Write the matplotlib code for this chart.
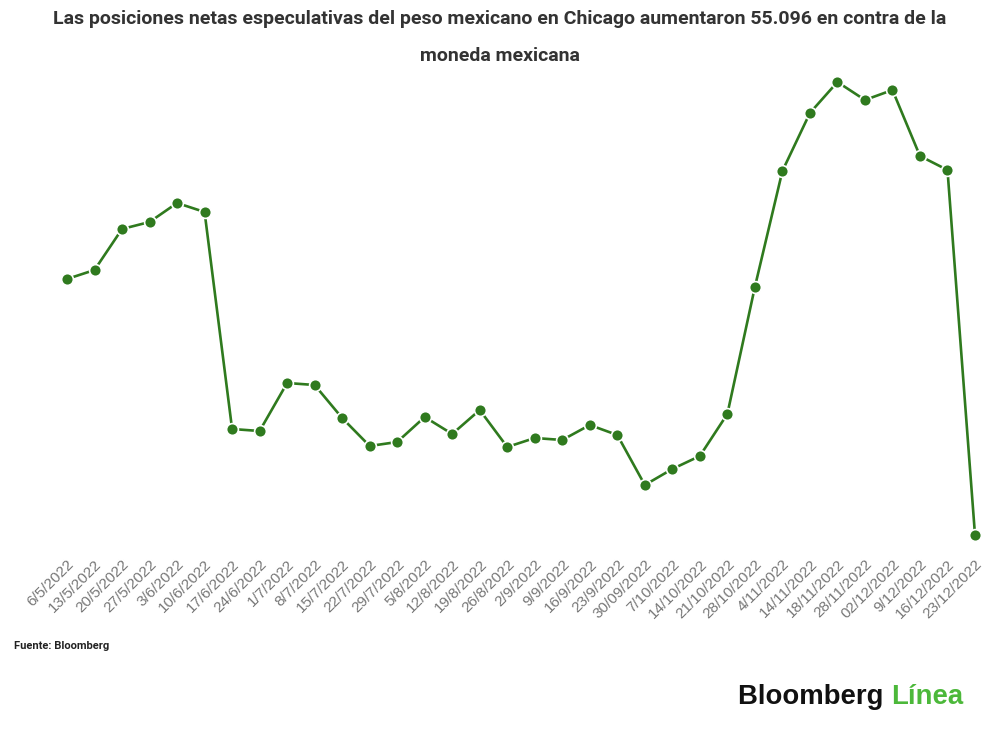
import matplotlib
matplotlib.use('Agg')
import matplotlib.pyplot as plt

plt.rcParams['font.family'] = ['Roboto', 'DejaVu Sans']

# Weekly dates (as labelled in the source)
fechas = ['6/5/2022', '13/5/2022', '20/5/2022', '27/5/2022', '3/6/2022', '10/6/2022',
          '17/6/2022', '24/6/2022', '1/7/2022', '8/7/2022', '15/7/2022', '22/7/2022',
          '29/7/2022', '5/8/2022', '12/8/2022', '19/8/2022', '26/8/2022', '2/9/2022',
          '9/9/2022', '16/9/2022', '23/9/2022', '30/09/2022', '7/10/2022', '14/10/2022',
          '21/10/2022', '28/10/2022', '4/11/2022', '14/11/2022', '18/11/2022', '28/11/2022',
          '02/12/2022', '9/12/2022', '16/12/2022', '23/12/2022']

# Net speculative positions (relative units)
posiciones = [281, 290, 331, 338, 357, 348, 131, 129, 177, 175, 142, 114,
              118, 143, 126, 150, 113, 122, 120, 135, 125, 75, 91, 104,
              146, 273, 389, 447, 478, 460, 470, 404, 390, 25]

verde = '#2f7a1e'

fig = plt.figure(figsize=(10, 7.32), dpi=100)
# axes placed so the first/last point and min/max match the reference
ax = fig.add_axes([0.067, 1 - 535 / 732, 0.908, (535 - 82) / 732])
x = list(range(len(fechas)))
ax.plot(x, posiciones, color=verde, lw=1.9, marker='o', ms=8.5,
        markerfacecolor=verde, markeredgecolor='white', markeredgewidth=1.2,
        clip_on=False, zorder=3)
ax.set_xlim(0, len(fechas) - 1)
ax.set_ylim(min(posiciones), max(posiciones))
for s in ax.spines.values():
    s.set_visible(False)
ax.set_yticks([])
ax.set_xticks(x)
ax.set_xticklabels(fechas, rotation=45, ha='right', rotation_mode='anchor',
                   fontsize=11, color='#777777',
                   family=['Liberation Sans', 'DejaVu Sans'])
ax.tick_params(axis='x', length=0, pad=16)

fig.text(0.5, 1 - 10 / 732, 'Las posiciones netas especulativas del peso mexicano en Chicago aumentaron 55.096 en contra de la\nmoneda mexicana',
         ha='center', va='top', fontsize=14, fontweight='bold', color='#333333', linespacing=2.35)
fig.text(0.014, 1 - 646 / 732, 'Fuente: Bloomberg', ha='left', va='center',
         fontsize=8, fontweight='bold', color='#222222')

t1 = fig.text(0.738, 1 - 697 / 732, 'Bloomberg ', ha='left', va='center',
              fontsize=19.8, fontweight='bold', color='#111111',
              family=['Liberation Sans', 'DejaVu Sans'])
fig.canvas.draw()
bb = t1.get_window_extent()
fig.text(bb.x1 / fig.bbox.width, 1 - 697 / 732, 'Línea', ha='left', va='center',
         fontsize=19.8, fontweight='bold', color='#4cb83a',
         family=['Liberation Sans', 'DejaVu Sans'])

fig.savefig('out.png', dpi=100, facecolor='white')
